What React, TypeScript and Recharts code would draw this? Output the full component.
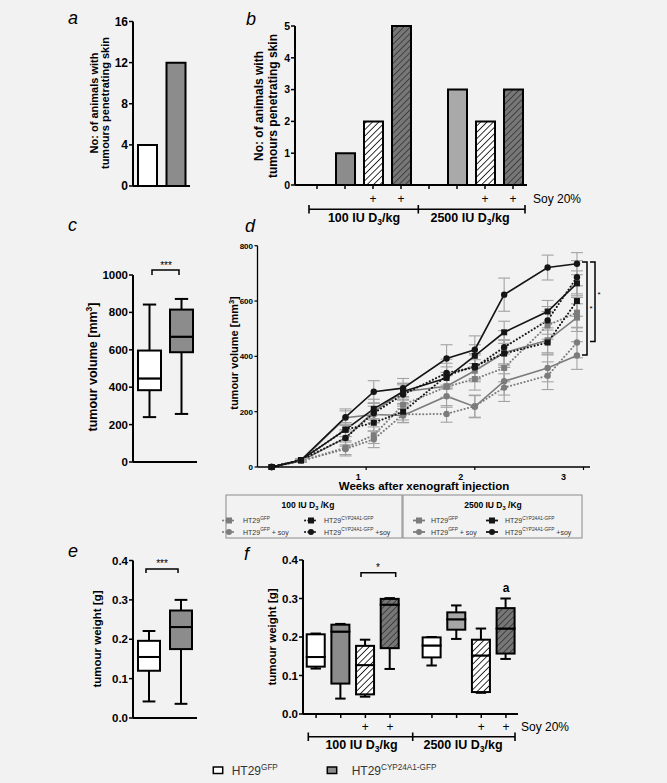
import { BarChart, Bar, Cell, XAxis, YAxis, LineChart, Line, ErrorBar } from "recharts";

const FONT = "'Liberation Sans', Arial, Helvetica, sans-serif";

// a – animals with tumours penetrating skin
const aGroups = ["HT29 GFP", "HT29 CYP24A1-GFP"];
const aCounts = [4, 12];

// b – same count, split by diet / vitamin D dose
const bGroups = ["100 GFP", "100 CYP", "100 GFP soy", "100 CYP soy", "2500 GFP", "2500 CYP", "2500 GFP soy", "2500 CYP soy"];
const bCounts = [0, 1, 2, 5, 0, 3, 2, 3];
const soyMarks = ["", "", "+", "+", "", "", "+", "+"];

// c – tumour volume (box plot)
const cMin = [240, 257];
const cQ1 = [384, 587];
const cMed = [447, 670];
const cQ3 = [596, 815];
const cMax = [842, 872];

// d – growth curves
const dWeeks = [0.13, 0.4, 0.81, 1.07, 1.34, 1.74, 2.0, 2.27, 2.67, 2.94];
const gfp100 = [0, 22, 70, 115, 225, 290, 318, 358, 512, 558];
const gfpSoy100 = [0, 22, 65, 100, 190, 192, 220, 287, 330, 450];
const cyp100 = [0, 25, 135, 160, 200, 330, 365, 410, 450, 600];
const cypSoy100 = [0, 25, 105, 195, 262, 340, 360, 433, 530, 686];
const gfp2500 = [0, 22, 105, 200, 272, 292, 348, 413, 458, 540];
const gfpSoy2500 = [0, 22, 178, 190, 186, 256, 218, 310, 358, 403];
const cyp2500 = [0, 25, 135, 210, 273, 322, 402, 487, 562, 664];
const cypSoy2500 = [0, 25, 180, 272, 285, 392, 424, 623, 721, 735];
const gfp100Err = [0, 5, 25, 30, 30, 40, 40, 50, 50, 55];
const gfpSoy100Err = [0, 5, 25, 30, 30, 30, 40, 50, 50, 55];
const cyp100Err = [0, 5, 25, 30, 30, 45, 45, 50, 45, 55];
const cypSoy100Err = [0, 5, 30, 35, 35, 50, 45, 60, 50, 60];
const gfp2500Err = [0, 5, 25, 30, 30, 40, 40, 45, 45, 50];
const gfpSoy2500Err = [0, 5, 25, 30, 25, 40, 40, 50, 50, 50];
const cyp2500Err = [0, 5, 25, 35, 30, 40, 40, 40, 40, 45];
const cypSoy2500Err = [0, 5, 30, 40, 35, 50, 50, 60, 45, 40];

// e – tumour weight (box plot)
const eMin = [0.042, 0.036];
const eQ1 = [0.12, 0.175];
const eMed = [0.155, 0.231];
const eQ3 = [0.196, 0.273];
const eMax = [0.221, 0.3];

// f – tumour weight by diet / dose
const fMin = [0.118, 0.04, 0.045, 0.117, 0.126, 0.195, 0.055, 0.143];
const fQ1 = [0.123, 0.079, 0.051, 0.171, 0.147, 0.219, 0.057, 0.157];
const fMed = [0.148, 0.214, 0.127, 0.284, 0.178, 0.246, 0.152, 0.222];
const fQ3 = [0.207, 0.232, 0.177, 0.299, 0.199, 0.264, 0.193, 0.275];
const fMax = [0.209, 0.234, 0.193, 0.301, 0.2, 0.282, 0.222, 0.3];
const fSlots = [0, 1, 2, 3, 4.7, 5.7, 6.7, 7.7];

// styles
const aFills = ["#ffffff", "#8c8c8c"];
const bFills = ["#fff", "#8c8c8c", "url(#bHatchW)", "url(#bHatchD)", "#fff", "#a9a9a9", "url(#bHatchW)", "url(#bHatchD)"];
const ceFills = ["#ffffff", "#8c8c8c"];
const fFills = ["#fff", "#8c8c8c", "url(#fHatchW)", "url(#fHatchD)", "#fff", "#a6a6a6", "url(#fHatchW)", "url(#fHatchD)"];
const dLabelShift: Record<number, number> = { 1: -8, 2: -14, 3: -20 };

const axisLine = { stroke: "#000", strokeWidth: 2 };
const tickLine = { stroke: "#000", strokeWidth: 1.5 };
const tickFont = (size: number) => ({ fontSize: size, fontWeight: 700, fill: "#000", fontFamily: FONT });

const aRows = aGroups.map((g, i) => ({ g, n: aCounts[i] }));
const bRows = bGroups.map((g, i) => ({ g, n: bCounts[i] }));

function boxRows(names: any[], mn: number[], q1: number[], md: number[], q3: number[], mx: number[]) {
  return names.map((g, i) => ({
    g,
    base: mn[i],
    lw: q1[i] - mn[i],
    lb: md[i] - q1[i],
    ub: q3[i] - md[i],
    uw: mx[i] - q3[i],
  }));
}
const cRows = boxRows(aGroups, cMin, cQ1, cMed, cQ3, cMax);
const eRows = boxRows(aGroups, eMin, eQ1, eMed, eQ3, eMax);
const fRows = boxRows(fSlots, fMin, fQ1, fMed, fQ3, fMax).map((r, i) => ({ ...r, pos: fSlots[i] }));

function boxBars(fills: string[]) {
  const cap = (w: number) => w * 0.29;
  const low = (p: any) => {
    const cx = p.x + p.width / 2;
    const yb = p.y + p.height;
    return (
      <g>
        <line x1={cx} x2={cx} y1={p.y} y2={yb} stroke="#000" strokeWidth={2} />
        <line x1={cx - cap(p.width)} x2={cx + cap(p.width)} y1={yb} y2={yb} stroke="#000" strokeWidth={2} />
      </g>
    );
  };
  const high = (p: any) => {
    const cx = p.x + p.width / 2;
    return (
      <g>
        <line x1={cx} x2={cx} y1={p.y} y2={p.y + p.height} stroke="#000" strokeWidth={2} />
        <line x1={cx - cap(p.width)} x2={cx + cap(p.width)} y1={p.y} y2={p.y} stroke="#000" strokeWidth={2} />
      </g>
    );
  };
  const box = (p: any) => (
    <rect x={p.x} y={p.y} width={p.width} height={Math.max(p.height, 0)} fill={fills[p.index] ?? "#fff"} stroke="#000" strokeWidth={2} />
  );
  return [
    <Bar key="base" dataKey="base" stackId="bx" fill="none" shape={() => <g />} isAnimationActive={false} />,
    <Bar key="lw" dataKey="lw" stackId="bx" shape={low} isAnimationActive={false} />,
    <Bar key="lb" dataKey="lb" stackId="bx" shape={box} isAnimationActive={false} />,
    <Bar key="ub" dataKey="ub" stackId="bx" shape={box} isAnimationActive={false} />,
    <Bar key="uw" dataKey="uw" stackId="bx" shape={high} isAnimationActive={false} />,
  ];
}

function hatchDefs(prefix: string) {
  return (
    <defs>
      <pattern id={prefix + "HatchW"} patternUnits="userSpaceOnUse" width={4.5} height={4.5} patternTransform="rotate(45)">
        <rect width={4.5} height={4.5} fill="#fff" />
        <line x1={0} y1={0} x2={0} y2={4.5} stroke="#111" strokeWidth={1.7} />
      </pattern>
      <pattern id={prefix + "HatchD"} patternUnits="userSpaceOnUse" width={4.5} height={4.5} patternTransform="rotate(45)">
        <rect width={4.5} height={4.5} fill="#777" />
        <line x1={0} y1={0} x2={0} y2={4.5} stroke="#333" strokeWidth={1.6} />
      </pattern>
    </defs>
  );
}

const sqDot = (color: string) => (p: any) => (
  <rect key={"s" + p.index} x={p.cx - 3} y={p.cy - 3} width={6} height={6} fill={color} />
);
const ciDot = (color: string) => (p: any) => (
  <circle key={"c" + p.index} cx={p.cx} cy={p.cy} r={3.2} fill={color} />
);

const BLACK = "#151515";
const GREY = "#7c7c7c";

const dSeries = [
  { name: "100 GFP+soy", vals: gfpSoy100, err: gfpSoy100Err, color: GREY, dotted: true, mark: "ci" },
  { name: "100 GFP", vals: gfp100, err: gfp100Err, color: GREY, dotted: true, mark: "sq" },
  { name: "2500 GFP+soy", vals: gfpSoy2500, err: gfpSoy2500Err, color: GREY, dotted: false, mark: "ci" },
  { name: "2500 GFP", vals: gfp2500, err: gfp2500Err, color: GREY, dotted: false, mark: "sq" },
  { name: "100 CYP", vals: cyp100, err: cyp100Err, color: BLACK, dotted: true, mark: "sq" },
  { name: "100 CYP+soy", vals: cypSoy100, err: cypSoy100Err, color: BLACK, dotted: true, mark: "ci" },
  { name: "2500 CYP", vals: cyp2500, err: cyp2500Err, color: BLACK, dotted: false, mark: "sq" },
  { name: "2500 CYP+soy", vals: cypSoy2500, err: cypSoy2500Err, color: BLACK, dotted: false, mark: "ci" },
];

const DTick = (p: any) => (
  <text x={p.x + (dLabelShift[p.payload.value] ?? 0)} y={p.y + 7.5} textAnchor="middle" fontSize={9} fontWeight={700} fontFamily={FONT} fill="#000">
    {p.payload.value}
  </text>
);

function Dose({ x, y, n, size = 12.5, sep = "/kg" }: any) {
  return (
    <text x={x} y={y} textAnchor="middle" fontWeight={700} fontSize={size}>
      {n} IU D<tspan fontSize={size * 0.68} dy={size * 0.25}>3</tspan>
      <tspan dy={-size * 0.25}>{sep}</tspan>
    </text>
  );
}

function HT({ x, y, sup, tail = "", size = 7 }: any) {
  return (
    <text x={x} y={y} fontSize={size} fill="#333">
      HT29<tspan fontSize={size * 0.68} dy={-size * 0.45}>{sup}</tspan>
      <tspan dy={size * 0.45}>{tail}</tspan>
    </text>
  );
}

function LegMark({ x, y, color, dotted, mark }: any) {
  return (
    <g>
      <line x1={x - 6} x2={x + 6} y1={y} y2={y} stroke={color} strokeWidth={dotted ? 2 : 1.8}
        strokeDasharray={dotted ? "0.1 3.2" : undefined} strokeLinecap={dotted ? "round" : "butt"} />
      {mark === "sq" ? <rect x={x - 3} y={y - 3} width={6} height={6} fill={color} /> : <circle cx={x} cy={y} r={3} fill={color} />}
    </g>
  );
}

function Overlay() {
  const rot = (x: number, y: number) => `translate(${x},${y}) rotate(-90)`;
  return (
    <svg width={667} height={783} style={{ position: "absolute", left: 0, top: 0, fontFamily: FONT, pointerEvents: "none" }}>
      {/* panel letters */}
      <g fontSize={18} fontStyle="italic" fill="#000">
        <text x={68} y={24}>a</text>
        <text x={246} y={25}>b</text>
        <text x={68} y={231}>c</text>
        <text x={245} y={232}>d</text>
        <text x={68} y={557}>e</text>
        <text x={244} y={560}>f</text>
      </g>

      {/* axis titles */}
      <g fontWeight={700} textAnchor="middle" dominantBaseline="central" fill="#000">
        <text transform={rot(93.5, 103)} fontSize={11}>No: of animals with</text>
        <text transform={rot(105, 103)} fontSize={11}>tumours penetrating skin</text>
        <text transform={rot(258.5, 106)} fontSize={12}>No: of animals with</text>
        <text transform={rot(273, 106)} fontSize={12}>tumours penetrating skin</text>
        <text transform={rot(93, 367)} fontSize={12.5}>
          tumour volume [mm<tspan fontSize={8.5} dy={-4}>3</tspan><tspan dy={4}>]</tspan>
        </text>
        <text transform={rot(234, 353)} fontSize={11}>
          tumour volume [mm<tspan fontSize={7.5} dy={-3.5}>3</tspan><tspan dy={3.5}>]</tspan>
        </text>
        <text transform={rot(96.5, 639)} fontSize={11.5}>tumour weight [g]</text>
        <text transform={rot(271.5, 637)} fontSize={11.5}>tumour weight [g]</text>
      </g>
      <text x={424} y={490} textAnchor="middle" fontWeight={700} fontSize={11.5}>Weeks after xenograft injection</text>

      {/* significance */}
      <g stroke="#000" strokeWidth={1.5} fill="none">
        <path d="M152,275 V270 H179 V275" />
        <path d="M146,573 V569 H178 V573" />
        <path d="M361,577 V572.7 H395.7 V577" />
        <path d="M582,262 H587 V355 H582" />
        <path d="M590,262 H595 V341.5 H590" />
      </g>
      <g fontSize={10} textAnchor="middle" fill="#000">
        <text x={166} y={269}>***</text>
        <text x={162} y={567}>***</text>
        <text x={378} y={571}>*</text>
        <text x={591} y={311} fontSize={8}>*</text>
        <text x={599} y={297} fontSize={8}>*</text>
      </g>
      <text x={506} y={592} textAnchor="middle" fontWeight={700} fontSize={12}>a</text>

      {/* b treatment labels */}
      <text x={533} y={203} fontSize={12}>Soy 20%</text>
      <path d="M309,205 V213.5 M309,209.3 H525 M418.3,205 V213.5 M525,205 V213.5" stroke="#000" strokeWidth={1.6} />
      <Dose x={364} y={222} n="100" />
      <Dose x={470} y={222} n="2500" />

      {/* f treatment labels */}
      <text x={521} y={731} fontSize={12}>Soy 20%</text>
      <path d="M308.3,732.5 V741 M308.3,736.7 H515 M412.7,732.5 V741 M515,732.5 V741" stroke="#000" strokeWidth={1.6} />
      <Dose x={361.5} y={748.5} n="100" />
      <Dose x={463} y={748.5} n="2500" />

      {/* d legend */}
      <rect x={226} y={495} width={176} height={43} fill="none" stroke="#8a8a8a" strokeWidth={1} />
      <rect x={403} y={495} width={179} height={43} fill="none" stroke="#8a8a8a" strokeWidth={1} />
      <Dose x={308} y={507.5} n="100" size={8.5} sep=" /Kg" />
      <Dose x={493} y={507.5} n="2500" size={8.5} sep=" /Kg" />
      <LegMark x={229} y={520.5} color={GREY} dotted mark="sq" />
      <LegMark x={229} y={532} color={GREY} dotted mark="ci" />
      <LegMark x={311} y={520.5} color={BLACK} dotted mark="sq" />
      <LegMark x={311} y={532} color={BLACK} dotted mark="ci" />
      <LegMark x={419} y={520.5} color={GREY} mark="sq" />
      <LegMark x={419} y={532} color={GREY} mark="ci" />
      <LegMark x={492} y={520.5} color={BLACK} mark="sq" />
      <LegMark x={492} y={532} color={BLACK} mark="ci" />
      <HT x={243} y={523} sup="GFP" />
      <HT x={243} y={534.5} sup="GFP" tail=" + soy" />
      <HT x={324} y={523} sup="CYP24A1-GFP" />
      <HT x={324} y={534.5} sup="CYP24A1-GFP" tail=" +soy" />
      <HT x={431} y={523} sup="GFP" />
      <HT x={431} y={534.5} sup="GFP" tail=" + soy" />
      <HT x={505} y={523} sup="CYP24A1-GFP" />
      <HT x={505} y={534.5} sup="CYP24A1-GFP" tail=" +soy" />

      {/* bottom legend */}
      <rect x={213.3} y={767} width={9.4} height={6.5} fill="#fff" stroke="#000" strokeWidth={1.5} />
      <rect x={327.3} y={767} width={9.4} height={6.5} fill="#8c8c8c" stroke="#000" strokeWidth={1.5} />
      <HT x={231.7} y={775} sup="GFP" size={12} />
      <HT x={351.7} y={775} sup="CYP24A1-GFP" size={12} />
    </svg>
  );
}

export default function App() {
  const pos = (left: number, top: number) => ({ position: "absolute" as const, left, top });
  return (
    <div style={{ position: "absolute", left: 0, top: 0, width: 667, height: 783, background: "#f2f2f2", fontFamily: FONT, overflow: "hidden" }}>
      {/* a */}
      <div style={pos(100, 12)}>
        <BarChart width={100} height={190} data={aRows} margin={{ top: 9.5, right: 10, bottom: 6, left: 13 }} barSize={19}>
          <XAxis dataKey="g" tick={false} tickSize={4} height={10} axisLine={axisLine} tickLine={tickLine} />
          <YAxis width={20} domain={[0, 16]} ticks={[0, 4, 8, 12, 16]} interval={0} tickSize={4} tickMargin={1}
            tick={tickFont(12)} axisLine={axisLine} tickLine={tickLine} />
          <Bar dataKey="n" stroke="#000" strokeWidth={2} isAnimationActive={false}>
            {aRows.map((r, i) => <Cell key={r.g} fill={aFills[i]} />)}
          </Bar>
        </BarChart>
      </div>

      {/* b */}
      <div style={pos(240, 12)}>
        <BarChart width={300} height={200} data={bRows} margin={{ top: 14, right: 13, bottom: 7, left: 35 }} barSize={19}>
          {hatchDefs("b")}
          <XAxis dataKey="g" padding={{ left: 8, right: 0 }} interval={0} tickSize={4} tickMargin={5.5} height={20}
            tickFormatter={(v: any, i: number) => soyMarks[i]} tick={{ fontSize: 12, fill: "#000", fontFamily: FONT }}
            axisLine={axisLine} tickLine={tickLine} />
          <YAxis width={20} domain={[0, 5]} ticks={[0, 1, 2, 3, 4, 5]} interval={0} tickSize={4} tickMargin={1}
            tick={tickFont(10.5)} axisLine={axisLine} tickLine={tickLine} />
          <Bar dataKey="n" stroke="#000" strokeWidth={2} isAnimationActive={false}>
            {bRows.map((r, i) => <Cell key={r.g} fill={bFills[i]} />)}
          </Bar>
        </BarChart>
      </div>

      {/* c */}
      <div style={pos(100, 260)}>
        <BarChart width={110} height={215} data={cRows} margin={{ top: 15, right: 13, bottom: 3, left: 3 }} barSize={23}>
          <XAxis dataKey="g" tick={false} tickSize={4} height={10} axisLine={axisLine} tickLine={tickLine} />
          <YAxis width={30} domain={[0, 1000]} ticks={[0, 200, 400, 600, 800, 1000]} interval={0} tickSize={4} tickMargin={1}
            tick={tickFont(11.5)} axisLine={axisLine} tickLine={tickLine} />
          {boxBars(ceFills)}
        </BarChart>
      </div>

      {/* d */}
      <div style={pos(215, 235)}>
        <LineChart width={385} height={250} margin={{ top: 10.7, right: 10, bottom: 4, left: 17.5 }}>
          <XAxis type="number" dataKey="w" domain={[0, 3.06]} ticks={[1, 2, 3]} interval={0} allowDataOverflow
            tickSize={3} height={14} tick={DTick} axisLine={{ stroke: "#000", strokeWidth: 1.3 }} tickLine={{ stroke: "#000", strokeWidth: 1.2 }} />
          <YAxis width={25} domain={[0, 800]} ticks={[0, 200, 400, 600, 800]} interval={0} tickSize={3} tickMargin={1.5}
            tick={tickFont(8)} axisLine={{ stroke: "#000", strokeWidth: 1.3 }} tickLine={{ stroke: "#000", strokeWidth: 1.2 }} />
          {dSeries.map((s) => (
            <Line key={s.name} name={s.name} data={dWeeks.map((w, i) => ({ w, v: s.vals[i], e: s.err[i] }))}
              dataKey="v" stroke={s.color} strokeWidth={s.dotted ? 2 : 1.6}
              strokeDasharray={s.dotted ? "0.1 3.4" : undefined} strokeLinecap={s.dotted ? "round" : "butt"}
              dot={s.mark === "sq" ? sqDot(s.color) : ciDot(s.color)} activeDot={false} isAnimationActive={false}>
              <ErrorBar dataKey="e" direction="y" width={6} stroke="#a3a3a3" strokeWidth={1.1} isAnimationActive={false} />
            </Line>
          ))}
        </LineChart>
      </div>

      {/* e */}
      <div style={pos(100, 548)}>
        <BarChart width={110} height={185} data={eRows} margin={{ top: 12.5, right: 13, bottom: 5, left: 3 }} barSize={22}>
          <XAxis dataKey="g" tick={false} tickSize={4} height={10} axisLine={axisLine} tickLine={tickLine} />
          <YAxis width={30} domain={[0, 0.4]} ticks={[0, 0.1, 0.2, 0.3, 0.4]} interval={0} tickSize={4} tickMargin={1}
            tickFormatter={(v: number) => v.toFixed(1)} tick={tickFont(11.5)} axisLine={axisLine} tickLine={tickLine} />
          {boxBars(ceFills)}
        </BarChart>
      </div>

      {/* f */}
      <div style={pos(270, 548)}>
        <BarChart width={260} height={195} data={fRows} margin={{ top: 12, right: 12, bottom: 9, left: 5 }} barSize={18}>
          {hatchDefs("f")}
          <XAxis type="number" dataKey="pos" domain={[-0.53, 8.19]} ticks={fSlots} interval={0} allowDataOverflow
            tickSize={4} tickMargin={4.2} height={20} tickFormatter={(v: any, i: number) => soyMarks[i]}
            tick={{ fontSize: 12, fill: "#000", fontFamily: FONT }} axisLine={axisLine} tickLine={tickLine} />
          <YAxis width={28} domain={[0, 0.4]} ticks={[0, 0.1, 0.2, 0.3, 0.4]} interval={0} tickSize={4} tickMargin={1}
            tickFormatter={(v: number) => v.toFixed(1)} tick={tickFont(11.5)} axisLine={axisLine} tickLine={tickLine} />
          {boxBars(fFills)}
        </BarChart>
      </div>

      <Overlay />
    </div>
  );
}
